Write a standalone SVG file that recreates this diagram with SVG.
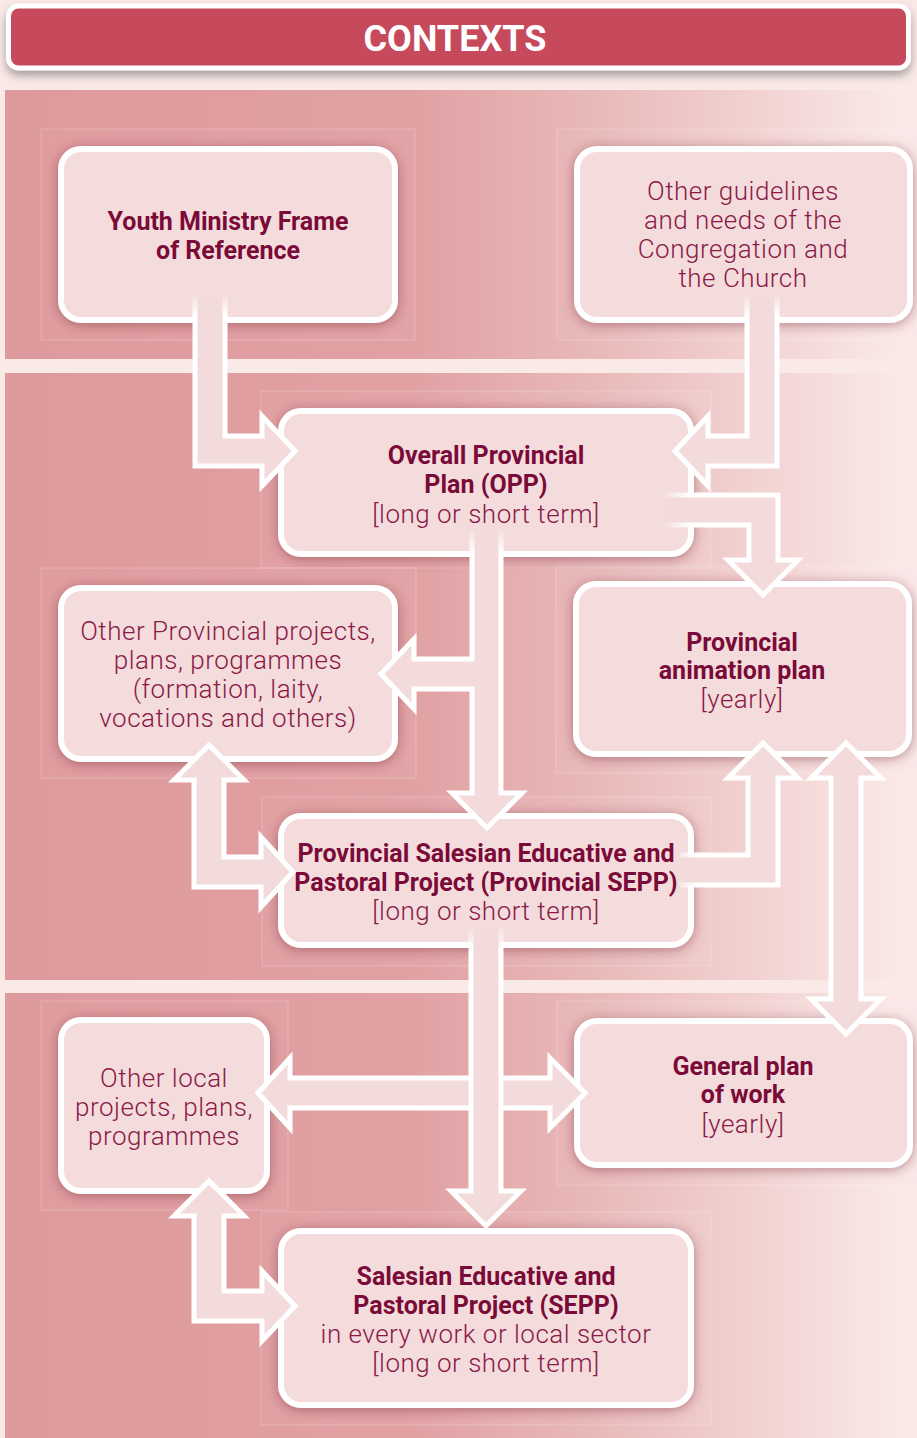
<svg xmlns="http://www.w3.org/2000/svg" width="917" height="1438" viewBox="0 0 917 1438">
<defs>
<style>
.bg{fill:#F9E9E7}
.band{fill:url(#bandGrad)}
.frame{fill:#FFFFFF;fill-opacity:0.04;stroke:#FFFFFF;stroke-opacity:0.22;stroke-width:1}
.box{fill:#F5DCDC;stroke:#FFFFFF;stroke-width:6;filter:url(#shadow)}
.af{fill:#F4DBDB;stroke:none}
.as{fill:none;stroke-width:5;stroke-linejoin:miter;stroke-miterlimit:10}
.arrow{fill:#F4DBDB;stroke:#FFFFFF;stroke-width:5;stroke-linejoin:miter;stroke-miterlimit:10}
.b{font-family:Roboto,"Liberation Sans",sans-serif;font-weight:bold;font-size:25px;fill:#7A0A38;text-anchor:middle}
.r{font-family:Roboto,"Liberation Sans",sans-serif;font-weight:300;font-size:26px;letter-spacing:0.5px;fill:#8A1A47;text-anchor:middle}
.h{font-family:Roboto,"Liberation Sans",sans-serif;font-weight:bold;font-size:36px;fill:#FFFFFF;text-anchor:middle}
</style>
<linearGradient id="bandGrad" gradientUnits="userSpaceOnUse" x1="0" y1="0" x2="917" y2="0">
<stop offset="0" stop-color="#DE999C"/>
<stop offset="0.45" stop-color="#E1A1A3"/>
<stop offset="0.65" stop-color="#E9B9B9"/>
<stop offset="0.85" stop-color="#F3D6D5"/>
<stop offset="0.97" stop-color="#F9E8E6"/>
</linearGradient>
<filter id="shadow" x="-20%" y="-20%" width="140%" height="140%">
<feDropShadow dx="0" dy="2" stdDeviation="6" flood-color="#7A2A35" flood-opacity="0.5"/>
</filter>
<filter id="hshadow" x="-5%" y="-30%" width="110%" height="170%">
<feDropShadow dx="0" dy="5" stdDeviation="4" flood-color="#555555" flood-opacity="0.5"/>
</filter>
<linearGradient id="fadeA" gradientUnits="userSpaceOnUse" x1="0" y1="294" x2="0" y2="314">
<stop offset="0" stop-color="#FFFFFF" stop-opacity="0"/>
<stop offset="1" stop-color="#FFFFFF" stop-opacity="1"/>
</linearGradient>
<linearGradient id="fadeC" gradientUnits="userSpaceOnUse" x1="662" y1="0" x2="690" y2="0">
<stop offset="0" stop-color="#FFFFFF" stop-opacity="0"/>
<stop offset="1" stop-color="#FFFFFF" stop-opacity="1"/>
</linearGradient>
<linearGradient id="fadeD" gradientUnits="userSpaceOnUse" x1="0" y1="528" x2="0" y2="552">
<stop offset="0" stop-color="#FFFFFF" stop-opacity="0"/>
<stop offset="1" stop-color="#FFFFFF" stop-opacity="1"/>
</linearGradient>
<linearGradient id="fadeF" gradientUnits="userSpaceOnUse" x1="672" y1="0" x2="696" y2="0">
<stop offset="0" stop-color="#FFFFFF" stop-opacity="0"/>
<stop offset="1" stop-color="#FFFFFF" stop-opacity="1"/>
</linearGradient>
<linearGradient id="fadeH" gradientUnits="userSpaceOnUse" x1="0" y1="926" x2="0" y2="950">
<stop offset="0" stop-color="#FFFFFF" stop-opacity="0"/>
<stop offset="1" stop-color="#FFFFFF" stop-opacity="1"/>
</linearGradient>
</defs>

<g id="background">
<rect class="bg" x="0" y="0" width="917" height="1438"/>
<rect class="band" x="5" y="90" width="912" height="269"/>
<rect class="band" x="5" y="373" width="912" height="607"/>
<rect class="band" x="5" y="993" width="912" height="445"/>
<rect class="frame" x="41" y="129" width="374" height="211"/>
<rect class="frame" x="557" y="129" width="380" height="211"/>
<rect class="frame" x="261" y="391" width="450" height="177"/>
<rect class="frame" x="41" y="568" width="375" height="210"/>
<rect class="frame" x="556" y="566" width="380" height="207"/>
<rect class="frame" x="262" y="797" width="450" height="169"/>
<rect class="frame" x="41" y="1001" width="247" height="209"/>
<rect class="frame" x="557" y="1001" width="380" height="184"/>
<rect class="frame" x="261" y="1212" width="451" height="213"/>
</g>

<g id="header">
<rect x="8.5" y="6" width="900" height="62" rx="10" fill="#C64A5C" stroke="#FFFFFF" stroke-width="5" filter="url(#hshadow)"/>
<text class="h" x="455" y="51">CONTEXTS</text>
</g>

<g id="node-youth">
<rect class="box" x="61" y="149" width="334" height="171" rx="20"/>
<text class="b" x="228" y="230">Youth Ministry Frame</text>
<text class="b" x="228" y="259">of Reference</text>
</g>

<g id="node-guidelines">
<rect class="box" x="577" y="149" width="333" height="171" rx="20"/>
<text class="r" x="743" y="200">Other guidelines</text>
<text class="r" x="743" y="229">and needs of the</text>
<text class="r" x="743" y="258">Congregation and</text>
<text class="r" x="743" y="287">the Church</text>
</g>

<g id="node-opp">
<rect class="box" x="281" y="411" width="410" height="143" rx="20"/>
<text class="b" x="486" y="464">Overall Provincial</text>
<text class="b" x="486" y="493">Plan (OPP)</text>
<text class="r" x="486" y="523">[long or short term]</text>
</g>

<g id="node-other-provincial">
<rect class="box" x="61" y="588" width="334" height="171" rx="20"/>
<text class="r" x="228" y="640">Other Provincial projects,</text>
<text class="r" x="228" y="669">plans, programmes</text>
<text class="r" x="228" y="698">(formation, laity,</text>
<text class="r" x="228" y="727">vocations and others)</text>
</g>

<g id="node-animation">
<rect class="box" x="576" y="584" width="333" height="170" rx="20"/>
<text class="b" x="742" y="651">Provincial</text>
<text class="b" x="742" y="679">animation plan</text>
<text class="r" x="742" y="708">[yearly]</text>
</g>

<g id="node-provincial-sepp">
<rect class="box" x="281" y="816" width="410" height="129" rx="20"/>
<text class="b" x="486" y="862">Provincial Salesian Educative and</text>
<text class="b" x="486" y="891">Pastoral Project (Provincial SEPP)</text>
<text class="r" x="486" y="920">[long or short term]</text>
</g>

<g id="node-other-local">
<rect class="box" x="61" y="1020" width="206" height="171" rx="20"/>
<text class="r" x="164" y="1087">Other local</text>
<text class="r" x="164" y="1116">projects, plans,</text>
<text class="r" x="164" y="1145">programmes</text>
</g>

<g id="node-general">
<rect class="box" x="577" y="1021" width="333" height="144" rx="20"/>
<text class="b" x="743" y="1075">General plan</text>
<text class="b" x="743" y="1103">of work</text>
<text class="r" x="743" y="1133">[yearly]</text>
</g>

<g id="node-sepp">
<rect class="box" x="281" y="1231" width="410" height="174" rx="20"/>
<text class="b" x="486" y="1285">Salesian Educative and</text>
<text class="b" x="486" y="1314">Pastoral Project (SEPP)</text>
<text class="r" x="486" y="1343">in every work or local sector</text>
<text class="r" x="486" y="1372">[long or short term]</text>
</g>

<g id="connectors">
<!-- Youth -> OPP -->
<path class="af" d="M195,296 L225,296 L225,436 L262,436 L262,416 L295,451 L262,486 L262,466 L195,466 Z"/>
<path class="as" stroke="url(#fadeA)" d="M225,296 L225,436 L262,436 L262,416 L295,451 L262,486 L262,466 L195,466 L195,296"/>
<!-- Guidelines -> OPP -->
<path class="af" d="M747,296 L747,436 L708,436 L708,416 L675,451 L708,486 L708,466 L777,466 L777,296 Z"/>
<path class="as" stroke="url(#fadeA)" d="M747,296 L747,436 L708,436 L708,416 L675,451 L708,486 L708,466 L777,466 L777,296"/>
<!-- OPP -> Animation plan -->
<path class="af" d="M664,495 L778,495 L778,560 L798,560 L763,595 L728,560 L749,560 L749,525 L664,525 Z"/>
<path class="as" stroke="url(#fadeC)" d="M664,495 L778,495 L778,560 L798,560 L763,595 L728,560 L749,560 L749,525 L664,525"/>
<!-- OPP -> Provincial SEPP, branch to Other Provincial -->
<path class="af" d="M472,528 L472,659 L414,659 L414,639 L381,674 L414,709 L414,689 L472,689 L472,793 L452,793 L487,828 L522,793 L501,793 L501,528 Z"/>
<path class="as" stroke="url(#fadeD)" d="M472,528 L472,659 L414,659 L414,639 L381,674 L414,709 L414,689 L472,689 L472,793 L452,793 L487,828 L522,793 L501,793 L501,528"/>
<!-- Other Provincial <-> Provincial SEPP -->
<path class="arrow" d="M209,745 L244,780 L224,780 L224,857 L261,857 L261,837 L293,872 L261,907 L261,887 L194,887 L194,780 L174,780 Z"/>
<!-- Provincial SEPP -> Animation plan -->
<path class="af" d="M680,855 L748,855 L748,778 L728,778 L763,743 L798,778 L778,778 L778,885 L680,885 Z"/>
<path class="as" stroke="url(#fadeF)" d="M680,855 L748,855 L748,778 L728,778 L763,743 L798,778 L778,778 L778,885 L680,885"/>
<!-- Animation plan <-> General plan -->
<path class="arrow" d="M846,743 L881,778 L861,778 L861,999 L881,999 L846,1034 L811,999 L831,999 L831,778 L811,778 Z"/>
<!-- Other local <-> General plan -->
<path class="arrow" d="M258,1093 L290,1058 L290,1078 L550,1078 L550,1058 L585,1093 L550,1128 L550,1108 L290,1108 L290,1128 Z"/>
<!-- Provincial SEPP -> SEPP -->
<path class="af" d="M471,928 L471,1191 L451,1191 L486,1226 L521,1191 L501,1191 L501,928 Z"/>
<path class="as" stroke="url(#fadeH)" d="M471,928 L471,1191 L451,1191 L486,1226 L521,1191 L501,1191 L501,928"/>
<!-- Other local <-> SEPP -->
<path class="arrow" d="M209,1181 L244,1216 L224,1216 L224,1291 L262,1291 L262,1271 L295,1306 L262,1341 L262,1321 L194,1321 L194,1216 L174,1216 Z"/>
</g>
</svg>
